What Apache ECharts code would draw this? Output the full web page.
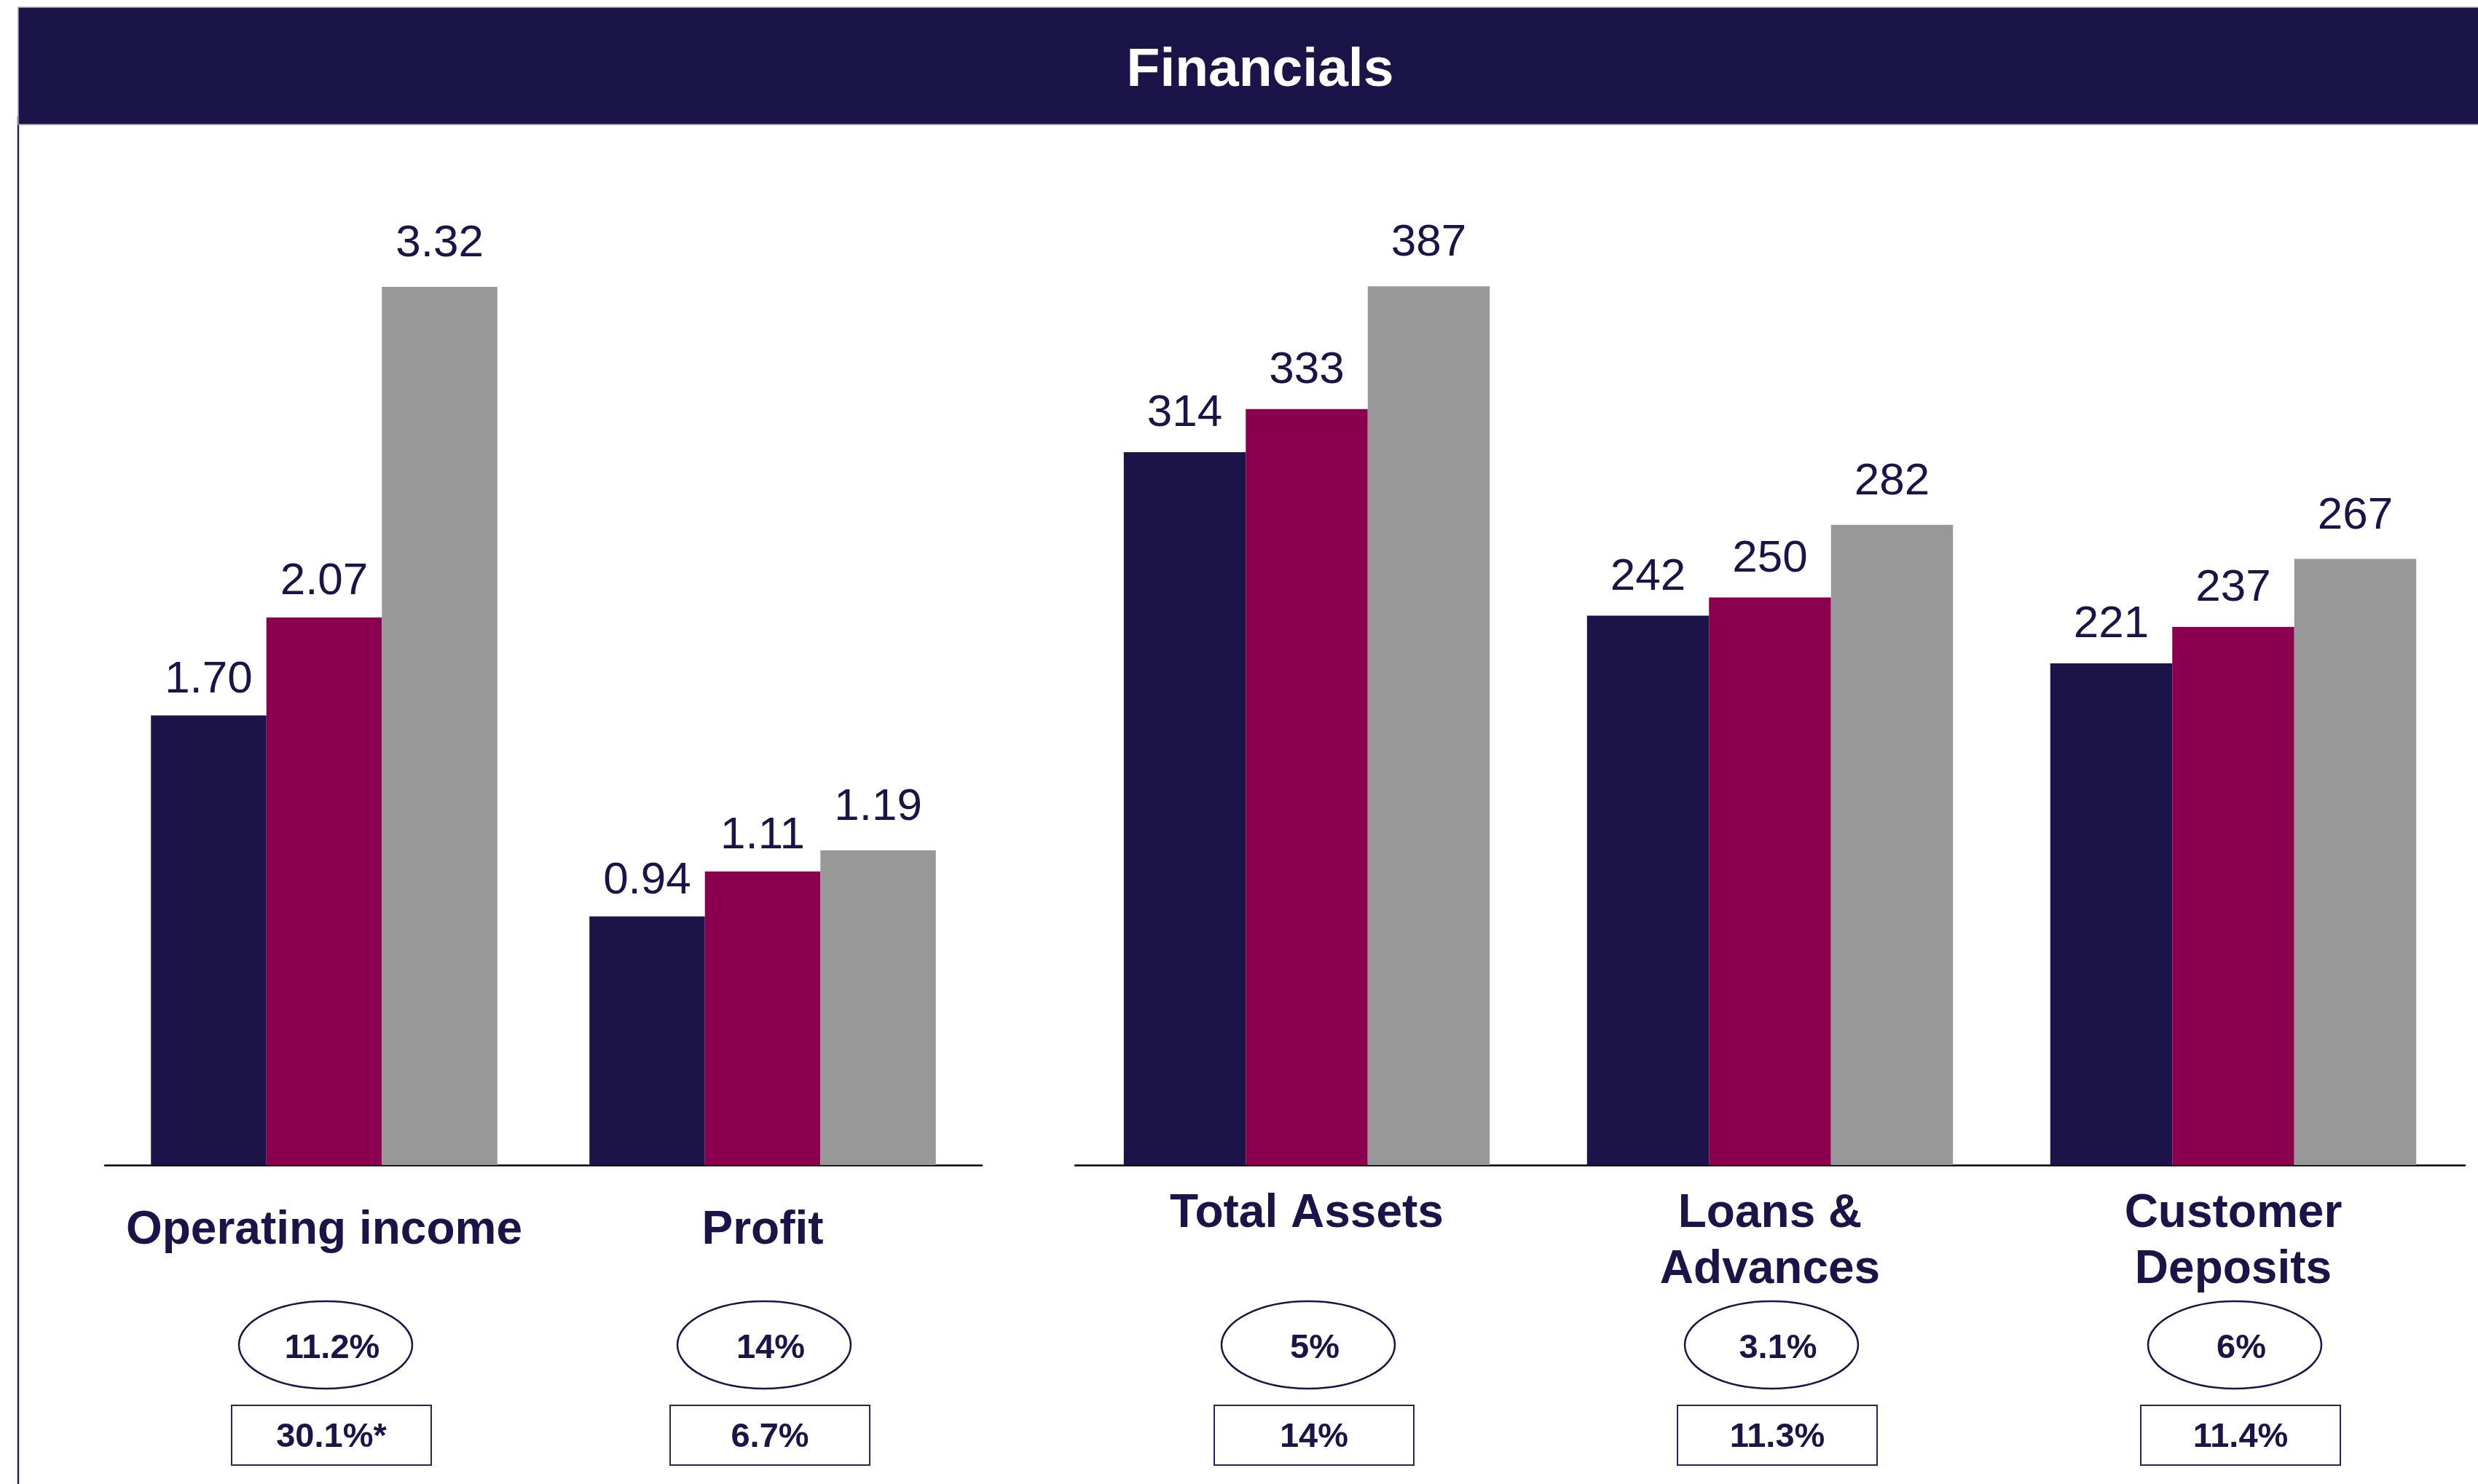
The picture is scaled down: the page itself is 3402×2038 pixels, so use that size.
<!DOCTYPE html>
<html>
<head>
<meta charset="utf-8">
<title>Financials</title>
<script src="https://cdn.jsdelivr.net/npm/echarts@6/dist/echarts.min.js"></script>
<style>
  html, body { margin: 0; padding: 0; background: #ffffff; }
  #chart { width: 3402px; height: 2038px; }
</style>
</head>
<body>
<div id="chart"></div>
<script>
// Income-statement items (left panel)
const incomeCategories = ['Operating income', 'Profit'];
const incomePeriod1 = [1.70, 0.94];
const incomePeriod2 = [2.07, 1.11];
const incomePeriod3 = [3.32, 1.19];
const incomeGrowth = ['11.2%', '14%'];
const incomeBoxed = ['30.1%*', '6.7%'];

// Balance-sheet items (right panel)
const balanceCategories = ['Total Assets', 'Loans &\nAdvances', 'Customer\nDeposits'];
const balancePeriod1 = [314, 242, 221];
const balancePeriod2 = [333, 250, 237];
const balancePeriod3 = [387, 282, 267];
const balanceGrowth = ['5%', '3.1%', '6%'];
const balanceBoxed = ['14%', '11.3%', '11.4%'];

const periodNames = ['Period 1', 'Period 2', 'Period 3'];

const NAVY = '#1c1349';
const MAGENTA = '#8a004f';
const GREY = '#989898';
const FONT = '"Liberation Sans", Arial, Helvetica, sans-serif';

const chart = echarts.init(document.getElementById('chart'), null, { renderer: 'canvas' });

function barSeries(name, values, color, axisIdx, distance, fmt) {
  return {
    name: name,
    type: 'bar',
    xAxisIndex: axisIdx,
    yAxisIndex: axisIdx,
    data: values,
    barGap: '0%',
    barCategoryGap: '21%',
    itemStyle: { color: color },
    label: {
      show: true,
      position: 'top',
      distance: distance,
      color: NAVY,
      fontFamily: FONT,
      fontSize: 62,
      formatter: fmt
    },
    emphasis: { disabled: true },
    animation: false
  };
}

// Ellipse (growth) and boxed figure under each category
function annotationSeries(axisIdx, count, growth, boxed) {
  const idx = [];
  for (let i = 0; i < count; i++) idx.push([i, 0]);
  return {
    type: 'custom',
    xAxisIndex: axisIdx,
    yAxisIndex: axisIdx,
    data: idx,
    silent: true,
    animation: false,
    clip: false,
    renderItem: function (params, api) {
      const i = params.dataIndex;
      const base = api.coord([api.value(0), 0]);
      const cx = base[0];
      const y0 = base[1];
      const txt = 'bold 47px ' + FONT;
      return {
        type: 'group',
        children: [
          { type: 'ellipse', shape: { cx: cx + 2, cy: y0 + 247, rx: 119, ry: 60 },
            style: { fill: '#ffffff', stroke: NAVY, lineWidth: 2.5 } },
          { type: 'text', style: { text: growth[i], x: cx + 11, y: y0 + 252,
            align: 'center', verticalAlign: 'middle', fill: NAVY, font: txt } },
          { type: 'rect', shape: { x: cx + 10 - 137, y: y0 + 330, width: 274, height: 82 },
            style: { fill: '#ffffff', stroke: '#2a2360', lineWidth: 2 } },
          { type: 'text', style: { text: boxed[i], x: cx + 10, y: y0 + 374,
            align: 'center', verticalAlign: 'middle', fill: NAVY, font: txt } }
        ]
      };
    }
  };
}

const two = function (p) { return Number(p.value).toFixed(2); };
const whole = function (p) { return String(Math.round(p.value)); };

const categoryLabel = {
  interval: 0,
  color: NAVY,
  fontFamily: FONT,
  fontWeight: 'bold',
  fontSize: 64,
  lineHeight: 77
};

const option = {
  backgroundColor: '#ffffff',
  animation: false,
  grid: [
    { left: 144, right: 2054, top: 147, bottom: 438 },
    { left: 1476, right: 18, top: 147, bottom: 438 }
  ],
  xAxis: [
    {
      type: 'category', gridIndex: 0, data: incomeCategories,
      axisLine: { show: true, lineStyle: { color: '#000000', width: 2.5 } },
      axisTick: { show: false },
      axisLabel: Object.assign({ margin: 52 }, categoryLabel)
    },
    {
      type: 'category', gridIndex: 1, data: balanceCategories,
      axisLine: { show: true, lineStyle: { color: '#000000', width: 2.5 } },
      axisTick: { show: false },
      axisLabel: Object.assign({ margin: 29 }, categoryLabel)
    }
  ],
  yAxis: [
    { type: 'value', gridIndex: 0, min: 0, max: 4, show: false, splitLine: { show: false } },
    { type: 'value', gridIndex: 1, min: 0, max: 466, show: false, splitLine: { show: false } }
  ],
  series: [
    barSeries(periodNames[0], incomePeriod1, NAVY, 0, 18, two),
    barSeries(periodNames[1], incomePeriod2, MAGENTA, 0, 18, two),
    barSeries(periodNames[2], incomePeriod3, GREY, 0, 28, two),
    barSeries(periodNames[0], balancePeriod1, NAVY, 1, 22, whole),
    barSeries(periodNames[1], balancePeriod2, MAGENTA, 1, 22, whole),
    barSeries(periodNames[2], balancePeriod3, GREY, 1, 28, whole),
    annotationSeries(0, incomeCategories.length, incomeGrowth, incomeBoxed),
    annotationSeries(1, balanceCategories.length, balanceGrowth, balanceBoxed)
  ],
  graphic: [
    // page frame line on the left
    { type: 'line', silent: true, z: 1,
      shape: { x1: 25, y1: 160, x2: 25, y2: 2038 },
      style: { stroke: '#2a2360', lineWidth: 2.5 } },
    // header band
    { type: 'rect', silent: true, z: 2,
      shape: { x: 25, y: 10, width: 3390, height: 161 },
      style: { fill: '#1b1449', stroke: '#a6a2b8', lineWidth: 1.5 } },
    { type: 'text', silent: true, z: 3,
      style: { text: 'Financials', x: 1730, y: 97, align: 'center', verticalAlign: 'middle',
        fill: '#ffffff', font: 'bold 75px ' + FONT } }
  ]
};

chart.setOption(option);
</script>
</body>
</html>
